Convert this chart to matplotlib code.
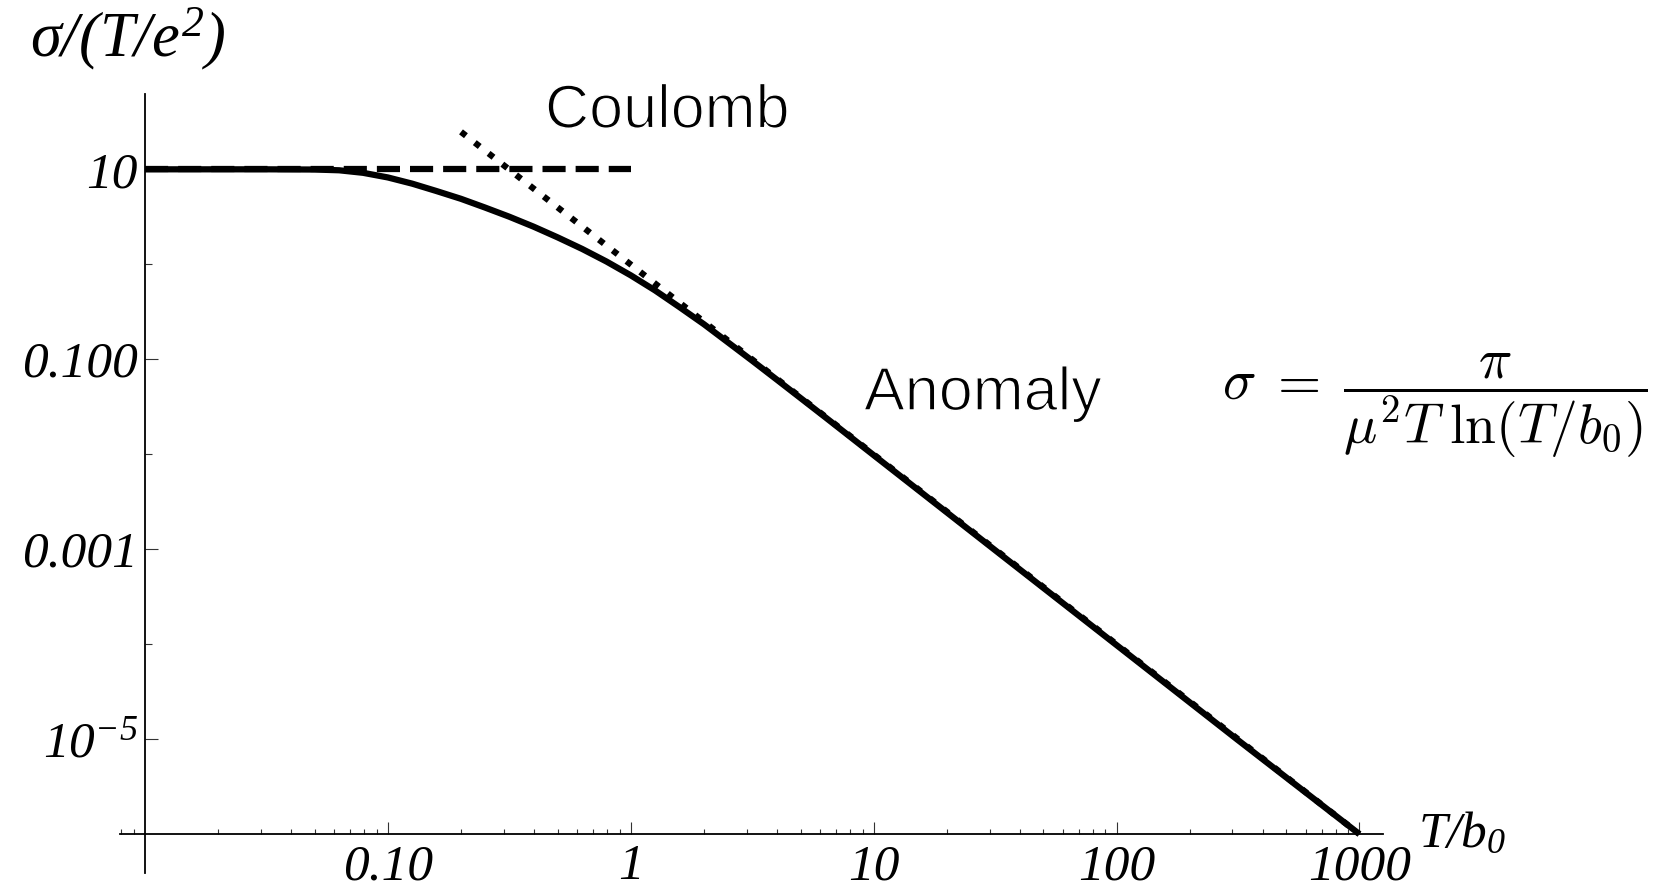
import matplotlib.pyplot as plt
import matplotlib.patheffects as pe
from matplotlib.ticker import FixedLocator, FixedFormatter, NullFormatter

plt.rcParams['mathtext.fontset'] = 'custom'
plt.rcParams['mathtext.rm'] = 'Liberation Serif:italic'
plt.rcParams['mathtext.it'] = 'Liberation Serif:italic'

# full conductivity curve
T = [0.01, 0.0316, 0.05, 0.063, 0.079, 0.1, 0.126, 0.158, 0.2, 0.251, 0.316,
     0.398, 0.5, 0.631, 0.794, 1.0, 1.26, 1.58, 2.0, 2.51, 3.16, 3.98, 5.01,
     6.31, 10, 31.6, 100, 316, 1000]
sigma = [10.0, 10.0, 9.95, 9.77, 9.19, 8.21, 7.06, 5.92, 4.89, 3.96, 3.17,
         2.49, 1.92, 1.45, 1.07, 0.765, 0.530, 0.357, 0.234, 0.151, 0.0967, 0.0614, 0.0389,
         0.0246, 0.00978, 0.000978, 9.78e-5, 9.78e-6, 1.0e-6]

# Coulomb plateau
coulomb_T = [0.01, 1.0]
coulomb_sigma = [10.0, 10.0]

# anomaly asymptote
anomaly_T = [0.2, 1000]
anomaly_sigma = [24.8, 1.0e-6]

x_major = [0.1, 1, 10, 100, 1000]
x_labels = ['0.10', '1', '10', '100', '1000']
x_minor = [0.008, 0.009] + [k * 10.0**n for n in range(-2, 3) for k in range(2, 10)]
y_major = [10, 0.1, 1e-3, 1e-5]
y_labels = ['10', '0.100', '0.001', r'$10^{-5}$']
y_minor = [1, 1e-2, 1e-4]

W, H = 1666, 889
fig = plt.figure(figsize=(W / 100, H / 100), dpi=100)
ax = fig.add_axes([120 / W, 1 - 873 / H, (1382.7 - 120) / W, (873 - 94.3) / H])
ax.set_xscale('log')
ax.set_yscale('log')
ax.set_xlim(10**-2.103, 10**3.096)
ax.set_ylim(10**-6.41, 10**1.79)

ax.plot(T, sigma, color='black', lw=4.5, solid_capstyle='butt')
ax.plot(coulomb_T, coulomb_sigma, color='black', lw=4.5, dashes=(3.7, 1.6))
ax.plot(anomaly_T, anomaly_sigma, color='black', lw=4.5, dashes=(1.0, 1.8))

for s in ['top', 'right']:
    ax.spines[s].set_visible(False)
ax.spines['left'].set_position(('data', 0.01))
ax.spines['bottom'].set_position(('data', 1e-6))
ax.spines['left'].set_linewidth(1.3)
ax.spines['bottom'].set_linewidth(1.3)

ax.xaxis.set_major_locator(FixedLocator(x_major))
ax.xaxis.set_major_formatter(FixedFormatter(x_labels))
ax.xaxis.set_minor_locator(FixedLocator(x_minor))
ax.xaxis.set_minor_formatter(NullFormatter())
ax.yaxis.set_major_locator(FixedLocator(y_major))
ax.yaxis.set_major_formatter(FixedFormatter(y_labels))
ax.yaxis.set_minor_locator(FixedLocator(y_minor))
ax.yaxis.set_minor_formatter(NullFormatter())

ax.tick_params(which='both', direction='in', width=0.8, color='#333333')
ax.tick_params(which='major', length=9, labelsize=37)
ax.tick_params(axis='x', which='major', pad=7)
ax.tick_params(axis='y', which='major', pad=5)
ax.tick_params(axis='x', which='minor', length=3.6)
ax.tick_params(axis='y', which='minor', length=4.8)
for lab in ax.get_xticklabels() + ax.get_yticklabels():
    lab.set_family('Liberation Serif')
    lab.set_style('italic')

fig.text(30 / W, 1 - 56 / H, r'$\sigma/(T/e^2)$', fontsize=45, va='baseline')
fig.text(1418 / W, 1 - 846.7 / H, r'$T/b_0$', fontsize=37, va='baseline')

# white outline on top of the glyphs gives a lighter weight
thin = [pe.Normal(), pe.Stroke(linewidth=1.1, foreground='white')]
fig.text(545 / W, 1 - 127.7 / H, 'Coulomb', fontsize=44, family='Liberation Sans',
         va='baseline', path_effects=thin)
fig.text(864 / W, 1 - 410 / H, 'Anomaly', fontsize=44, family='Liberation Sans',
         va='baseline', path_effects=thin)
fig.text(1222 / W, 1 - 400 / H,
         r'$\sigma\;=\;\dfrac{\pi}{\mu^2 T\;\ln(T/b_0)}$',
         fontsize=40, math_fontfamily='cm', va='baseline')

fig.savefig('out.png', dpi=100)
